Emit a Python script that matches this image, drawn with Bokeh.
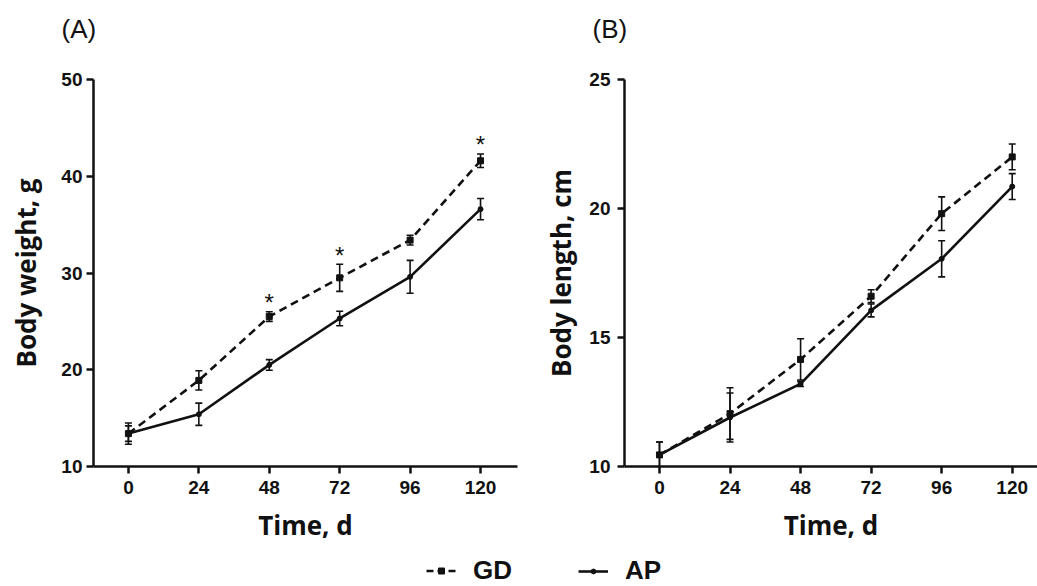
from bokeh.plotting import figure
from bokeh.models import (Range1d, FixedTicker, Whisker, TeeHead, ColumnDataSource,
                          Legend, LegendItem, Label)
from bokeh.layouts import row, column
from bokeh.embed import file_html
from bokeh.resources import INLINE
from bokeh.core.properties import value

# ---------------- data ----------------
time = [0, 24, 48, 72, 96, 120]

weight_gd = [13.4, 18.9, 25.5, 29.5, 33.4, 41.6]
weight_gd_err = [0.8, 1.0, 0.5, 1.4, 0.5, 0.7]
weight_ap = [13.4, 15.4, 20.5, 25.3, 29.6, 36.6]
weight_ap_err = [1.1, 1.15, 0.55, 0.75, 1.7, 1.1]
weight_sig_times = [48, 72, 120]

length_gd = [10.45, 12.05, 14.15, 16.6, 19.8, 22.0]
length_gd_err = [0.5, 1.0, 0.8, 0.25, 0.65, 0.5]
length_ap = [10.45, 11.9, 13.2, 16.05, 18.05, 20.85]
length_ap_err = [0.5, 0.95, 0.1, 0.25, 0.7, 0.5]

weight_yticks = [10, 20, 30, 40, 50]
length_yticks = [10, 15, 20, 25]

series_names = ["GD", "AP"]
panel_tags = ["(A)", "(B)"]

FONT_TICK = "Liberation Sans"
FONT_TITLE = "Open Sans"
INK = "#111111"
W = 1037


def bare(fig):
    fig.axis.visible = False
    fig.grid.visible = False
    fig.outline_line_color = None
    fig.background_fill_color = "white"
    fig.border_fill_color = "white"
    return fig


def make_panel(width, xr, yr, yticks, ytitle, mbl, mbr, gd, gd_err, ap, ap_err,
               sig_times, ylab_standoff, ytitle_standoff):
    p = figure(width=width, height=498, x_range=Range1d(*xr), y_range=Range1d(*yr),
               output_backend="svg", toolbar_location=None,
               min_border_left=mbl, min_border_right=mbr,
               min_border_top=29, min_border_bottom=82)
    p.grid.visible = False
    p.outline_line_color = None
    p.background_fill_color = "white"
    p.border_fill_color = "white"

    p.xaxis.ticker = FixedTicker(ticks=time)
    p.yaxis.ticker = FixedTicker(ticks=yticks)
    p.xaxis.axis_label = "Time, d"
    p.yaxis.axis_label = ytitle
    for ax in (p.xaxis[0], p.yaxis[0]):
        ax.axis_line_width = 2.5
        ax.axis_line_color = INK
        ax.major_tick_line_width = 2.5
        ax.major_tick_line_color = INK
        ax.major_tick_out = 7
        ax.major_tick_in = 0
        ax.minor_tick_out = 0
        ax.minor_tick_in = 0
        ax.major_label_text_font = FONT_TICK
        ax.major_label_text_font_style = "bold"
        ax.major_label_text_font_size = "19px"
        ax.major_label_text_color = INK
        ax.axis_label_text_font = FONT_TITLE
        ax.axis_label_text_font_style = "bold"
        ax.axis_label_text_font_size = "26px"
        ax.axis_label_text_color = INK
    p.xaxis.major_label_standoff = 7
    p.xaxis.axis_label_standoff = 10
    p.yaxis.major_label_standoff = ylab_standoff
    p.yaxis.axis_label_standoff = ytitle_standoff

    # error bars
    for vals, errs in ((gd, gd_err), (ap, ap_err)):
        src = ColumnDataSource(dict(t=time,
                                    lo=[v - e for v, e in zip(vals, errs)],
                                    hi=[v + e for v, e in zip(vals, errs)]))
        w = Whisker(base="t", lower="lo", upper="hi", source=src, line_width=1.6,
                    line_color=INK,
                    lower_head=TeeHead(size=7, line_width=1.6, line_color=INK),
                    upper_head=TeeHead(size=7, line_width=1.6, line_color=INK))
        p.add_layout(w)

    p.line(time, gd, line_dash="8 5", line_width=2.6, line_color=INK)
    p.scatter(time, gd, marker="square", size=6, color=INK)
    p.line(time, ap, line_width=2.6, line_color=INK)
    p.scatter(time, ap, marker="circle", size=5, color=INK)

    if sig_times:
        sx, sy = [], []
        for t, v, e in zip(time, gd, gd_err):
            if t in sig_times:
                sx.append(t)
                sy.append(v + e)
        p.text(x=sx, y=sy, text=["*"] * len(sx), text_font=value(FONT_TICK),
               text_font_size="24px", text_align="center", text_baseline="middle",
               y_offset=-9, text_color=INK)
    return p


# header strip with the panel tags
head = bare(figure(width=W, height=50, x_range=Range1d(0, W), y_range=Range1d(0, 50),
                   output_backend="svg", toolbar_location=None, min_border=0))
for tag, tx in zip(panel_tags, [61, 592]):
    head.add_layout(Label(x=tx, y=22, text=tag, text_font=FONT_TICK,
                          text_font_size="26px", text_baseline="middle",
                          text_align="left", text_color=INK))

pA = make_panel(518, (-11.9, 132.6), (10, 50), weight_yticks, "Body weight, g",
                93, 1, weight_gd, weight_gd_err, weight_ap, weight_ap_err,
                weight_sig_times, 4, 14)
pB = make_panel(519, (-11.9, 128.6), (10, 25), length_yticks, "Body length, cm",
                106, 0, length_gd, length_gd_err, length_ap, length_ap_err,
                [], 7, 7)

# legend strip
leg = bare(figure(width=W, height=38, x_range=Range1d(0, W), y_range=Range1d(0, 38),
                  output_backend="svg", toolbar_location=None, min_border=0))
nan = float("nan")
g_line = leg.line([nan], [nan], line_dash="7 4", line_width=2.6, line_color=INK)
g_mark = leg.scatter([nan], [nan], marker="square", color=INK)
a_line = leg.line([nan], [nan], line_width=2.6, line_color=INK)
a_mark = leg.scatter([nan], [nan], marker="circle", color=INK)
for name, rends, lx, gh in ((series_names[0], [g_line, g_mark], 426, 15),
                            (series_names[1], [a_line, a_mark], 578, 12)):
    lg = Legend(items=[LegendItem(label=name, renderers=rends)],
                orientation="horizontal", location=(lx, 0),
                glyph_width=30, glyph_height=gh, label_standoff=17,
                padding=0, margin=0, border_line_alpha=0, background_fill_alpha=0,
                label_text_font=FONT_TICK, label_text_font_style="bold",
                label_text_font_size="26px", label_text_color=INK)
    leg.add_layout(lg)

layout = column(head, row(pA, pB), leg)
open("out.html", "w").write(file_html(layout, INLINE))
